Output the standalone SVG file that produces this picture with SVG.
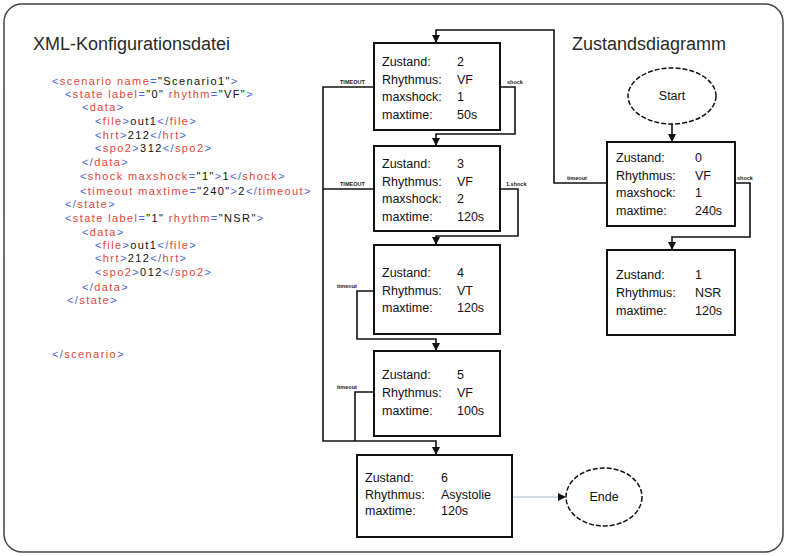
<svg xmlns="http://www.w3.org/2000/svg" width="787" height="556" viewBox="0 0 787 556">
<defs>
<marker id="ah" markerWidth="8" markerHeight="8" refX="7" refY="4" orient="auto" markerUnits="userSpaceOnUse">
<path d="M0,0 L8,4 L0,8 Z" fill="#111"/>
</marker>
<style>
.title{font-family:"Liberation Sans",Arial,sans-serif;font-size:18px;fill:#2a2a2a}
.xml{font-family:"Liberation Sans",Arial,sans-serif;font-size:11px;letter-spacing:1.4px}
.b{fill:#4a66d8}.r{fill:#e5443a}.k{fill:#111}
.box{fill:#fff;stroke:#111;stroke-width:2}
.ell{fill:#fff;stroke:#111;stroke-width:1.5;stroke-dasharray:5 2}
.t{font-family:"Liberation Sans",Arial,sans-serif;font-size:12.5px;fill:#111}
.c{fill:none;stroke:#111;stroke-width:1.6}
.lbl{font-family:"Liberation Sans",Arial,sans-serif;font-size:5.5px;font-weight:bold;fill:#222}
</style>
</defs>
<rect x="4" y="4" width="779" height="548" rx="18" fill="#fff" stroke="#444" stroke-width="1.5"/>
<text class="title" x="33" y="50">XML-Konfigurationsdatei</text>
<text class="title" x="572" y="50">Zustandsdiagramm</text>

<g id="xml">
<text class="xml" x="52" y="85"><tspan class="b">&lt;</tspan><tspan class="r">scenario name</tspan><tspan class="b">=</tspan><tspan class="k">"Scenario1"</tspan><tspan class="b">&gt;</tspan></text>
<text class="xml" x="65" y="98"><tspan class="b">&lt;</tspan><tspan class="r">state label</tspan><tspan class="b">=</tspan><tspan class="k">"0"</tspan><tspan class="r"> rhythm</tspan><tspan class="b">=</tspan><tspan class="k">"VF"</tspan><tspan class="b">&gt;</tspan></text>
<text class="xml" x="82" y="111"><tspan class="b">&lt;</tspan><tspan class="r">data</tspan><tspan class="b">&gt;</tspan></text>
<text class="xml" x="95" y="125"><tspan class="b">&lt;</tspan><tspan class="r">file</tspan><tspan class="b">&gt;</tspan><tspan class="k">out1</tspan><tspan class="b">&lt;/</tspan><tspan class="r">file</tspan><tspan class="b">&gt;</tspan></text>
<text class="xml" x="95" y="139"><tspan class="b">&lt;</tspan><tspan class="r">hrt</tspan><tspan class="b">&gt;</tspan><tspan class="k">212</tspan><tspan class="b">&lt;/</tspan><tspan class="r">hrt</tspan><tspan class="b">&gt;</tspan></text>
<text class="xml" x="95" y="152"><tspan class="b">&lt;</tspan><tspan class="r">spo2</tspan><tspan class="b">&gt;</tspan><tspan class="k">312</tspan><tspan class="b">&lt;/</tspan><tspan class="r">spo2</tspan><tspan class="b">&gt;</tspan></text>
<text class="xml" x="82" y="166"><tspan class="b">&lt;/</tspan><tspan class="r">data</tspan><tspan class="b">&gt;</tspan></text>
<text class="xml" x="80" y="180"><tspan class="b">&lt;</tspan><tspan class="r">shock maxshock</tspan><tspan class="b">=</tspan><tspan class="k">"1"</tspan><tspan class="b">&gt;</tspan><tspan class="k">1</tspan><tspan class="b">&lt;/</tspan><tspan class="r">shock</tspan><tspan class="b">&gt;</tspan></text>
<text class="xml" x="80" y="195"><tspan class="b">&lt;</tspan><tspan class="r">timeout maxtime</tspan><tspan class="b">=</tspan><tspan class="k">"240"</tspan><tspan class="b">&gt;</tspan><tspan class="k">2</tspan><tspan class="b">&lt;/</tspan><tspan class="r">timeout</tspan><tspan class="b">&gt;</tspan></text>
<text class="xml" x="65" y="208"><tspan class="b">&lt;/</tspan><tspan class="r">state</tspan><tspan class="b">&gt;</tspan></text>
<text class="xml" x="65" y="222"><tspan class="b">&lt;</tspan><tspan class="r">state label</tspan><tspan class="b">=</tspan><tspan class="k">"1"</tspan><tspan class="r"> rhythm</tspan><tspan class="b">=</tspan><tspan class="k">"NSR"</tspan><tspan class="b">&gt;</tspan></text>
<text class="xml" x="82" y="236"><tspan class="b">&lt;</tspan><tspan class="r">data</tspan><tspan class="b">&gt;</tspan></text>
<text class="xml" x="95" y="249"><tspan class="b">&lt;</tspan><tspan class="r">file</tspan><tspan class="b">&gt;</tspan><tspan class="k">out1</tspan><tspan class="b">&lt;/</tspan><tspan class="r">file</tspan><tspan class="b">&gt;</tspan></text>
<text class="xml" x="95" y="262"><tspan class="b">&lt;</tspan><tspan class="r">hrt</tspan><tspan class="b">&gt;</tspan><tspan class="k">212</tspan><tspan class="b">&lt;/</tspan><tspan class="r">hrt</tspan><tspan class="b">&gt;</tspan></text>
<text class="xml" x="95" y="276"><tspan class="b">&lt;</tspan><tspan class="r">spo2</tspan><tspan class="b">&gt;</tspan><tspan class="k">012</tspan><tspan class="b">&lt;/</tspan><tspan class="r">spo2</tspan><tspan class="b">&gt;</tspan></text>
<text class="xml" x="82" y="291"><tspan class="b">&lt;/</tspan><tspan class="r">data</tspan><tspan class="b">&gt;</tspan></text>
<text class="xml" x="67" y="304"><tspan class="b">&lt;/</tspan><tspan class="r">state</tspan><tspan class="b">&gt;</tspan></text>
<text class="xml" x="52" y="358"><tspan class="b">&lt;/</tspan><tspan class="r">scenario</tspan><tspan class="b">&gt;</tspan></text>
</g>

<g id="connectors">
<path class="c" d="M607,183 H554 V30 H436 V42" marker-end="url(#ah)"/>
<path class="c" d="M735,183 H750 V237 H672 V249" marker-end="url(#ah)"/>
<path class="c" d="M672,124 V141" marker-end="url(#ah)"/>
<path class="c" d="M500,87 H515 V134 H436 V145" marker-end="url(#ah)"/>
<path class="c" d="M500,189 H518 V236 H436 V244" marker-end="url(#ah)"/>
<path class="c" d="M374,291 H357 V339 H436 V350" marker-end="url(#ah)"/>
<path class="c" d="M374,392 H355 V441"/>
<path class="c" d="M374,87 H323 V441 H436 V454" marker-end="url(#ah)"/>
<path class="c" d="M374,189 H323"/>
<path d="M512,497 H565" fill="none" stroke="#a8bcc8" stroke-width="1.2" marker-end="url(#ah)"/>
<text class="lbl" x="340" y="84">TIMEOUT</text>
<text class="lbl" x="507" y="84">shock</text>
<text class="lbl" x="340" y="186">TIMEOUT</text>
<text class="lbl" x="506" y="186">1.shock</text>
<text class="lbl" x="337" y="288">timeout</text>
<text class="lbl" x="337" y="389">timeout</text>
<text class="lbl" x="567" y="180">timeout</text>
<text class="lbl" x="737" y="180">shock</text>
</g>

<g id="start">
<ellipse class="ell" cx="672" cy="96" rx="44" ry="28"/>
<text class="t" x="672" y="100" text-anchor="middle">Start</text>
</g>
<g id="ende">
<ellipse class="ell" cx="604" cy="497" rx="38" ry="29"/>
<text class="t" x="604" y="501" text-anchor="middle">Ende</text>
</g>

<g id="state0">
<rect class="box" x="607" y="142" width="128" height="84"/>
<text class="t" x="616" y="162">Zustand:</text><text class="t" x="695" y="162">0</text>
<text class="t" x="616" y="179.5">Rhythmus:</text><text class="t" x="695" y="179.5">VF</text>
<text class="t" x="616" y="197">maxshock:</text><text class="t" x="695" y="197">1</text>
<text class="t" x="616" y="214.5">maxtime:</text><text class="t" x="695" y="214.5">240s</text>
</g>
<g id="state1">
<rect class="box" x="607" y="250" width="128" height="85"/>
<text class="t" x="616" y="279">Zustand:</text><text class="t" x="695" y="279">1</text>
<text class="t" x="616" y="297">Rhythmus:</text><text class="t" x="695" y="297">NSR</text>
<text class="t" x="616" y="315">maxtime:</text><text class="t" x="695" y="315">120s</text>
</g>
<g id="state2">
<rect class="box" x="374" y="43" width="126" height="87"/>
<text class="t" x="382" y="66">Zustand:</text><text class="t" x="457" y="66">2</text>
<text class="t" x="382" y="83.5">Rhythmus:</text><text class="t" x="457" y="83.5">VF</text>
<text class="t" x="382" y="101">maxshock:</text><text class="t" x="457" y="101">1</text>
<text class="t" x="382" y="118.5">maxtime:</text><text class="t" x="457" y="118.5">50s</text>
</g>
<g id="state3">
<rect class="box" x="374" y="146" width="126" height="85"/>
<text class="t" x="382" y="168">Zustand:</text><text class="t" x="457" y="168">3</text>
<text class="t" x="382" y="185.5">Rhythmus:</text><text class="t" x="457" y="185.5">VF</text>
<text class="t" x="382" y="203">maxshock:</text><text class="t" x="457" y="203">2</text>
<text class="t" x="382" y="220.5">maxtime:</text><text class="t" x="457" y="220.5">120s</text>
</g>
<g id="state4">
<rect class="box" x="374" y="245" width="126" height="89"/>
<text class="t" x="382" y="277">Zustand:</text><text class="t" x="457" y="277">4</text>
<text class="t" x="382" y="294.5">Rhythmus:</text><text class="t" x="457" y="294.5">VT</text>
<text class="t" x="382" y="312">maxtime:</text><text class="t" x="457" y="312">120s</text>
</g>
<g id="state5">
<rect class="box" x="374" y="351" width="126" height="85"/>
<text class="t" x="382" y="379">Zustand:</text><text class="t" x="457" y="379">5</text>
<text class="t" x="382" y="397">Rhythmus:</text><text class="t" x="457" y="397">VF</text>
<text class="t" x="382" y="415">maxtime:</text><text class="t" x="457" y="415">100s</text>
</g>
<g id="state6">
<rect class="box" x="357" y="455" width="155" height="82"/>
<text class="t" x="365" y="482">Zustand:</text><text class="t" x="441" y="482">6</text>
<text class="t" x="365" y="498.5">Rhythmus:</text><text class="t" x="441" y="498.5">Asystolie</text>
<text class="t" x="365" y="515">maxtime:</text><text class="t" x="441" y="515">120s</text>
</g>
</svg>
